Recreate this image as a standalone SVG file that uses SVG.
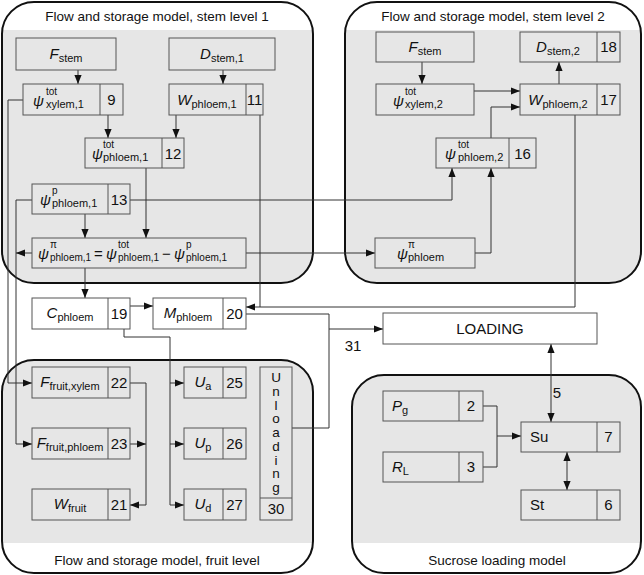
<svg xmlns="http://www.w3.org/2000/svg" width="644" height="575" viewBox="0 0 644 575">
<style>
text{font-family:"Liberation Sans",Arial,sans-serif;fill:#111;}
.title{font-size:13.5px;text-anchor:middle;}
.num{font-size:15px;text-anchor:middle;}
.v{font-size:15px;font-style:italic;}
.sub{font-size:11px;font-style:normal;}
.esub{font-size:10px;font-style:normal;}
.sup{font-size:10px;font-style:normal;}
.gbox{fill:#e6e6e6;stroke:#555;stroke-width:1;}
.wbox{fill:#fff;stroke:#555;stroke-width:1;}
.sep{stroke:#555;stroke-width:1;}
.panel{fill:none;stroke:#111;stroke-width:2;}
.grey{fill:#e6e6e6;}
#connectors path{fill:none;stroke:#333;stroke-width:1;}
.plain{font-size:15px;}
.vert{font-size:13.5px;writing-mode:vertical-rl;text-orientation:upright;letter-spacing:-1.25px;}
</style>
<defs>
<marker id="ah" viewBox="0 0 10 8" refX="10" refY="4" markerWidth="9" markerHeight="8" markerUnits="userSpaceOnUse" orient="auto-start-reverse"><path d="M0,0 L10,4 L0,8 z" fill="#111"/></marker>
<clipPath id="c1"><rect x="2" y="2" width="311" height="281" rx="32"/></clipPath>
<clipPath id="c2"><rect x="345" y="2" width="296" height="281" rx="32"/></clipPath>
<clipPath id="c3"><rect x="2" y="360" width="311" height="213" rx="32"/></clipPath>
<clipPath id="c4"><rect x="352" y="375" width="289" height="198" rx="32"/></clipPath>
</defs>
<rect width="644" height="575" fill="#fff"/>
<g id="panels">
<g id="panel-stem1"><rect class="grey" x="0" y="30" width="320" height="260" clip-path="url(#c1)"/><rect class="panel" x="2" y="2" width="311" height="281" rx="32"/><text class="title" x="157" y="21">Flow and storage model, stem level 1</text></g>
<g id="panel-stem2"><rect class="grey" x="340" y="30" width="310" height="260" clip-path="url(#c2)"/><rect class="panel" x="345" y="2" width="296" height="281" rx="32"/><text class="title" x="493" y="21">Flow and storage model, stem level 2</text></g>
<g id="panel-fruit"><rect class="grey" x="0" y="355" width="320" height="188" clip-path="url(#c3)"/><rect class="panel" x="2" y="360" width="311" height="213" rx="32"/><text class="title" x="157" y="565">Flow and storage model, fruit level</text></g>
<g id="panel-sucrose"><rect class="grey" x="345" y="370" width="300" height="173" clip-path="url(#c4)"/><rect class="panel" x="352" y="375" width="289" height="198" rx="32"/><text class="title" x="497" y="565">Sucrose loading model</text></g>
</g>
<g id="connectors">
<path d="M78,70 V84" marker-end="url(#ah)"/>
<path d="M223,70 V84" marker-end="url(#ah)"/>
<path d="M108,115 V138" marker-end="url(#ah)"/>
<path d="M176,115 V138" marker-end="url(#ah)"/>
<path d="M146,168 V238" marker-end="url(#ah)"/>
<path d="M85,214 V238" marker-end="url(#ah)"/>
<path d="M23,100 H8 V383 H32" marker-end="url(#ah)"/>
<path d="M32,200 H16 V444 H32" marker-end="url(#ah)"/>
<path d="M32,253 H16" marker-end="url(#ah)"/>
<path d="M130,200 H452 V168" marker-end="url(#ah)"/>
<path d="M246,253 H375" marker-end="url(#ah)"/>
<path d="M85,268 V298" marker-end="url(#ah)"/>
<path d="M260,115 V307"/>
<path d="M575,115 V307 H246" marker-end="url(#ah)"/>
<path d="M422,62 V84" marker-end="url(#ah)"/>
<path d="M474,91 H520" marker-end="url(#ah)"/>
<path d="M491,138 V107 H520" marker-end="url(#ah)"/>
<path d="M559,84 V62" marker-end="url(#ah)"/>
<path d="M475,253 H491 V168" marker-end="url(#ah)"/>
<path d="M130,306 H153" marker-end="url(#ah)"/>
<path d="M246,314 H329 V428 H292"/>
<path d="M329,329 H383" marker-end="url(#ah)"/>
<path d="M124,329 V337 H170 V505 H184" marker-end="url(#ah)"/>
<path d="M170,383 H184" marker-end="url(#ah)"/>
<path d="M170,444 H184" marker-end="url(#ah)"/>
<path d="M130,383 H146 V505 H130" marker-end="url(#ah)"/>
<path d="M130,444 H146" marker-end="url(#ah)"/>
<path d="M551,344 V422" marker-start="url(#ah)" marker-end="url(#ah)"/>
<path d="M483,406 H497 V467 H483"/>
<path d="M497,436 H521" marker-end="url(#ah)"/>
<path d="M567,452 V490" marker-start="url(#ah)" marker-end="url(#ah)"/>
<text class="plain" x="353" y="351" text-anchor="middle">31</text>
<text class="plain" x="557" y="398" text-anchor="middle">5</text>
</g>
<g id="n-fstem1"><rect class="gbox" x="16" y="38" width="100" height="32"/><text class="v" x="66" y="59" text-anchor="middle">F<tspan class="sub" dy="3">stem</tspan></text></g>
<g id="n-psixylem1"><rect class="gbox" x="23" y="84" width="100" height="31"/><line class="sep" x1="100" y1="84" x2="100" y2="115"/><text class="v" x="33" y="106">ψ</text><text class="sup" x="46" y="95">tot</text><text class="sub" x="46" y="108">xylem,1</text><text class="num" x="111.5" y="105">9</text></g>
<g id="n-dstem1"><rect class="gbox" x="169" y="38" width="106" height="32"/><text class="v" x="222" y="59" text-anchor="middle">D<tspan class="sub" dy="3">stem,1</tspan></text></g>
<g id="n-wphloem1"><rect class="gbox" x="169" y="84" width="94" height="31"/><line class="sep" x1="246" y1="84" x2="246" y2="115"/><text class="v" x="207" y="105" text-anchor="middle">W<tspan class="sub" dy="3">phloem,1</tspan></text><text class="num" x="254.5" y="105">11</text></g>
<g id="n-psiphloem1"><rect class="gbox" x="85" y="138" width="99" height="30"/><line class="sep" x1="162" y1="138" x2="162" y2="168"/><text class="v" x="92" y="159">ψ</text><text class="sup" x="103" y="148">tot</text><text class="sub" x="103" y="161">phloem,1</text><text class="num" x="173" y="159">12</text></g>
<g id="n-psip1"><rect class="gbox" x="32" y="184" width="98" height="30"/><line class="sep" x1="108" y1="184" x2="108" y2="214"/><text class="v" x="40" y="205">ψ</text><text class="sup" x="52" y="194">p</text><text class="sub" x="52" y="207">phloem,1</text><text class="num" x="119" y="205">13</text></g>
<g id="n-equation"><rect class="gbox" x="32" y="238" width="214" height="30"/>
<text class="v" x="38" y="259">ψ</text><text class="sup" x="50" y="248">π</text><text class="esub" x="50" y="261">phloem,1</text>
<text class="plain" x="94" y="259">=</text>
<text class="v" x="106" y="259">ψ</text><text class="sup" x="118" y="248">tot</text><text class="esub" x="118" y="261">phloem,1</text>
<text class="plain" x="162" y="259">−</text>
<text class="v" x="174" y="259">ψ</text><text class="sup" x="186" y="248">p</text><text class="esub" x="186" y="261">phloem,1</text></g>
<g id="n-fstem2"><rect class="gbox" x="376" y="32" width="98" height="30"/><text class="v" x="425" y="52" text-anchor="middle">F<tspan class="sub" dy="3">stem</tspan></text></g>
<g id="n-psixylem2"><rect class="gbox" x="376" y="84" width="98" height="31"/><text class="v" x="393" y="106">ψ</text><text class="sup" x="405" y="95">tot</text><text class="sub" x="405" y="108">xylem,2</text></g>
<g id="n-dstem2"><rect class="gbox" x="520" y="32" width="100" height="30"/><line class="sep" x1="597" y1="32" x2="597" y2="62"/><text class="v" x="558" y="52" text-anchor="middle">D<tspan class="sub" dy="3">stem,2</tspan></text><text class="num" x="608.5" y="52">18</text></g>
<g id="n-wphloem2"><rect class="gbox" x="520" y="84" width="100" height="31"/><line class="sep" x1="597" y1="84" x2="597" y2="115"/><text class="v" x="558" y="105" text-anchor="middle">W<tspan class="sub" dy="3">phloem,2</tspan></text><text class="num" x="608.5" y="105">17</text></g>
<g id="n-psiphloem2"><rect class="gbox" x="436" y="138" width="100" height="30"/><line class="sep" x1="509" y1="138" x2="509" y2="168"/><text class="v" x="445" y="159">ψ</text><text class="sup" x="458" y="148">tot</text><text class="sub" x="458" y="161">phloem,2</text><text class="num" x="522.5" y="159">16</text></g>
<g id="n-psipi"><rect class="gbox" x="375" y="238" width="100" height="30"/><text class="v" x="397" y="259">ψ</text><text class="sup" x="408" y="248">π</text><text class="sub" x="408" y="261">phloem</text></g>
<g id="n-cphloem"><rect class="wbox" x="32" y="298" width="98" height="31"/><line class="sep" x1="108" y1="298" x2="108" y2="329"/><text class="v" x="70" y="318" text-anchor="middle">C<tspan class="sub" dy="3">phloem</tspan></text><text class="num" x="119" y="319">19</text></g>
<g id="n-mphloem"><rect class="wbox" x="153" y="298" width="93" height="31"/><line class="sep" x1="223" y1="298" x2="223" y2="329"/><text class="v" x="188" y="318" text-anchor="middle">M<tspan class="sub" dy="3">phloem</tspan></text><text class="num" x="234.5" y="319">20</text></g>
<g id="n-loading"><rect class="wbox" x="383" y="313" width="214" height="31"/><text class="plain" x="490" y="334" text-anchor="middle">LOADING</text></g>
<g id="n-ffruitxylem"><rect class="gbox" x="32" y="367" width="98" height="31"/><line class="sep" x1="108" y1="367" x2="108" y2="398"/><text class="v" x="70" y="387" text-anchor="middle">F<tspan class="sub" dy="3">fruit,xylem</tspan></text><text class="num" x="119" y="388">22</text></g>
<g id="n-ffruitphloem"><rect class="gbox" x="32" y="428" width="98" height="31"/><line class="sep" x1="108" y1="428" x2="108" y2="459"/><text class="v" x="70" y="448" text-anchor="middle">F<tspan class="sub" dy="3">fruit,phloem</tspan></text><text class="num" x="119" y="449">23</text></g>
<g id="n-wfruit"><rect class="gbox" x="32" y="489" width="98" height="31"/><line class="sep" x1="108" y1="489" x2="108" y2="520"/><text class="v" x="70" y="509" text-anchor="middle">W<tspan class="sub" dy="3">fruit</tspan></text><text class="num" x="119" y="510">21</text></g>
<g id="n-ua"><rect class="gbox" x="184" y="367" width="62" height="31"/><line class="sep" x1="223" y1="367" x2="223" y2="398"/><text class="v" x="203" y="387" text-anchor="middle">U<tspan class="sub" dy="3">a</tspan></text><text class="num" x="234.5" y="388">25</text></g>
<g id="n-up"><rect class="gbox" x="184" y="428" width="62" height="31"/><line class="sep" x1="223" y1="428" x2="223" y2="459"/><text class="v" x="203" y="448" text-anchor="middle">U<tspan class="sub" dy="3">p</tspan></text><text class="num" x="234.5" y="449">26</text></g>
<g id="n-ud"><rect class="gbox" x="184" y="489" width="62" height="31"/><line class="sep" x1="223" y1="489" x2="223" y2="520"/><text class="v" x="203" y="509" text-anchor="middle">U<tspan class="sub" dy="3">d</tspan></text><text class="num" x="234.5" y="510">27</text></g>
<g id="n-unloading"><rect class="gbox" x="260" y="367" width="32" height="153"/><line class="sep" x1="260" y1="498" x2="292" y2="498"/>
<text class="vert" x="276" y="370">Unloading</text>
<text class="num" x="276" y="514">30</text></g>
<g id="n-pg"><rect class="gbox" x="383" y="391" width="100" height="30"/><line class="sep" x1="459" y1="391" x2="459" y2="421"/><text class="v" x="392" y="411">P<tspan class="sub" dy="3">g</tspan></text><text class="num" x="471" y="411">2</text></g>
<g id="n-rl"><rect class="gbox" x="383" y="452" width="100" height="30"/><line class="sep" x1="459" y1="452" x2="459" y2="482"/><text class="v" x="392" y="472">R<tspan class="sub" dy="3">L</tspan></text><text class="num" x="471" y="472">3</text></g>
<g id="n-su"><rect class="gbox" x="521" y="422" width="99" height="30"/><line class="sep" x1="597" y1="422" x2="597" y2="452"/><text class="plain" x="530" y="442">Su</text><text class="num" x="608.5" y="442">7</text></g>
<g id="n-st"><rect class="gbox" x="521" y="490" width="99" height="30"/><line class="sep" x1="597" y1="490" x2="597" y2="520"/><text class="plain" x="530" y="510">St</text><text class="num" x="608.5" y="510">6</text></g>
</svg>
